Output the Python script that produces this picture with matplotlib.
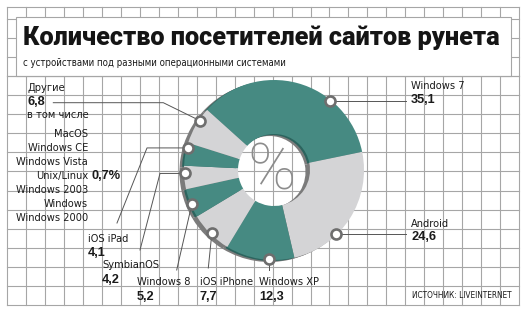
import numpy as np
import matplotlib
matplotlib.use("Agg")
import matplotlib.pyplot as plt
from matplotlib.transforms import Affine2D
from matplotlib.patches import Rectangle
from matplotlib import font_manager as fm

# ---------------- data ----------------
labels = ["Windows 7", "Android", "Windows XP", "iOS iPhone", "Windows 8",
          "SymbianOS", "iOS iPad", "Другие"]
values = [35.1, 24.6, 12.3, 7.7, 5.2, 4.2, 4.1, 6.8]
others_list = ["MacOS", "Windows CE", "Windows Vista", "Unix/Linux",
               "Windows 2003", "Windows", "Windows 2000"]
unix_share = "0,7%"
title = "Количество посетителей сайтов рунета"
subtitle = "с устройствами под разными операционными системами"
source = "ИСТОЧНИК: LIVEINTERNET"

# ---------------- style ----------------
GREEN = "#468a82"
LGRAY = "#d4d4d6"
DGREEN = "#2c645e"
SGRAY = "#7a7a7a"
GRID = "#a6a6a6"
MEDGE = "#6e6e6e"
LINE = "#555555"
TXT = "#1a1a1a"
slice_colors = [GREEN, LGRAY] * 4
shadow_colors = [DGREEN, SGRAY] * 4

# pick a condensed face if one is installed
ttf = fm.fontManager.ttflist
def find(name, stretch=None, weight=None):
    for f in ttf:
        if f.name == name and (stretch is None or f.stretch == stretch) \
                and (weight is None or f.weight == weight) and f.style == "normal":
            return f.fname
    return None

cand = [find("Liberation Sans Narrow", weight=400),
        find("Liberation Sans Narrow"),
        find("DejaVu Sans", stretch="condensed", weight=400),
        find("DejaVu Sans", stretch="semi-condensed", weight=400),
        find("Roboto Condensed")]
cand = [c for c in cand if c]
if cand:
    NARROW = fm.FontProperties(fname=cand[0])
else:
    NARROW = fm.FontProperties(family="Roboto")

W, H = 528, 314
cx, cy, R = 274, 170, 90.0

fig = plt.figure(figsize=(W / 100, H / 100), dpi=100)
ax = fig.add_axes([0, 0, 1, 1])
pix = Affine2D().scale(1 / R, -1 / R).translate(-cx / R, cy / R) + ax.transData

# size the narrow face so that "Windows 2000" is ~73 px wide
probe = fig.text(0, 0, "Windows 2000", fontproperties=NARROW, fontsize=10)
fig.canvas.draw()
rend = fig.canvas.get_renderer()
FS = 10 * 73 / probe.get_window_extent(rend).width
probe.remove()
NARROW = NARROW.copy()
NARROW.set_size(FS)
BOLD = fm.FontProperties(family="Liberation Sans", weight="bold", size=9.2)

# ---------------- grid background ----------------
xs = 7 + 18.97 * np.arange(28)
ys = 305 - 19.08 * np.arange(16)
for x in xs:
    ax.plot([x, x], [7, 305], color=GRID, lw=0.8, transform=pix, zorder=0)
for y in ys:
    ax.plot([7, 519.3], [y, y], color=GRID, lw=0.8, transform=pix, zorder=0)
ax.plot([7, 519.3], [7, 7], color=GRID, lw=0.8, transform=pix, zorder=0)
ax.add_patch(Rectangle((16, 17), 495, 59, transform=pix, facecolor="white",
                       edgecolor=GRID, lw=0.8, zorder=1))
ax.plot([7, 519.3], [76, 76], color=GRID, lw=0.8, transform=pix, zorder=1.1)

# ---------------- donut ----------------
start = 138
ax.pie(values, radius=1, center=(-4.5 / R, -2 / R), colors=["#7c7c7c"] * 8,
       startangle=start, counterclock=False,
       wedgeprops=dict(width=0.6, linewidth=0, zorder=2))
ax.pie(values, radius=1, center=(-2 / R, -1 / R), colors=shadow_colors,
       startangle=start, counterclock=False,
       wedgeprops=dict(width=0.6, linewidth=0, zorder=2.5))
wedges, _ = ax.pie(values, radius=1, center=(0, 0), colors=slice_colors,
                   startangle=start, counterclock=False,
                   wedgeprops=dict(width=0.6, linewidth=0, zorder=3))

ax.set_aspect("auto")
ax.set_xlim(-cx / R, (W - cx) / R)
ax.set_ylim((cy - H) / R, cy / R)
ax.axis("off")

ax.text(272, 171, "%", transform=pix, ha="center", va="center",
        fontsize=47, color="#8c8c8c", family="Roboto", weight="light", zorder=4)

mark_frac = [0.69, 0.65, 0.37, 0.48, 0.47, 0.67, 0.79, 0.66]
rm = 0.985
mpx = []
for w, f in zip(wedges, mark_frac):
    th = np.deg2rad(w.theta2 - f * (w.theta2 - w.theta1))
    x, y = rm * np.cos(th), rm * np.sin(th)
    ax.plot(x, y, "o", ms=7.2, mfc="white", mec=MEDGE, mew=1.9, zorder=6)
    mpx.append((cx + R * x, cy - R * y))

fmt = [f"{v:.1f}".replace(".", ",") for v in values]

def leader(i, pts):
    p = [mpx[i]] + pts
    ax.plot([q[0] for q in p], [q[1] for q in p], color=LINE, lw=0.7,
            transform=pix, zorder=5)

def ntext(x, y, s, ha="left"):
    ax.text(x, y, s, transform=pix, ha=ha, va="baseline",
            fontproperties=NARROW, color=TXT)

def btext(x, y, s):
    ax.text(x, y, s, transform=pix, ha="left", va="baseline",
            fontproperties=BOLD, color=TXT)

def label(x, yb, name, num, gap=14.5):
    ntext(x, yb, name)
    btext(x, yb + gap, num)

leader(0, [(406, mpx[0][1])])
label(411, 89.3, labels[0], fmt[0], gap=14)
leader(1, [(406, mpx[1][1])])
label(411, 226.7, labels[1], fmt[1], gap=13)
leader(2, [(mpx[2][0], 270)])
label(259, 285, labels[2], fmt[2])
leader(3, [(208.3, 268)])
label(200, 285, labels[3], fmt[3])
leader(4, [(176.7, 270)])
label(137, 285, labels[4], fmt[4])
leader(5, [(160, mpx[5][1]), (140, 250)])
label(102, 268.3, labels[5], fmt[5])
leader(6, [(147, mpx[6][1]), (117, 223)])
label(87.5, 241.7, labels[6], fmt[6], gap=14)
leader(7, [(163.3, 102.7), (53.3, 102.7)])
ntext(27, 90.7, labels[7])
btext(28, 105, fmt[7])
ntext(27, 118.3, "в том числе")
for k, name in enumerate(others_list):
    yb = 136.7 + 14 * k
    ntext(88, yb, name, ha="right")
    if name == "Unix/Linux":
        btext(91.5, yb, unix_share)

# ---------------- titles ----------------
t1 = ax.text(23, 45, title, transform=pix, ha="left", va="baseline",
             family="Roboto", weight="black", fontsize=18, color="#151515")
t2 = ax.text(23, 65.7, subtitle, transform=pix, ha="left", va="baseline",
             fontproperties=NARROW.copy(), color=TXT)
t3 = ax.text(512, 298.3, source, transform=pix, ha="right", va="baseline",
             fontproperties=NARROW.copy(), color=TXT)

fig.canvas.draw()
rend = fig.canvas.get_renderer()
for t, wpx in [(t1, 476), (t2, 264), (t3, 100)]:
    w = t.get_window_extent(rend).width
    t.set_fontsize(t.get_fontsize() * wpx / w)

fig.savefig("out.png", dpi=100, facecolor="white")
